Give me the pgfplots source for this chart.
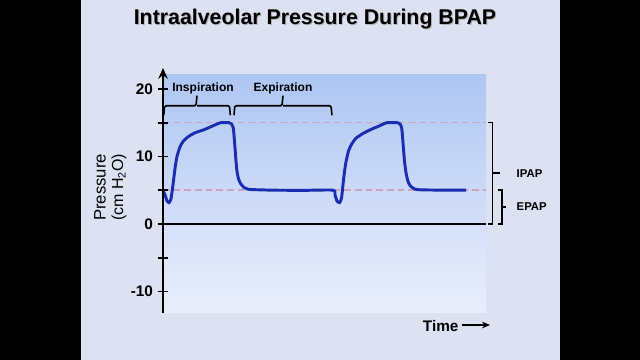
\documentclass[border=0pt]{standalone}
\usepackage{pgfplots}
\pgfplotsset{compat=1.18}
\usepackage{fontspec}
\setmainfont{Liberation Sans}
\usetikzlibrary{arrows.meta}
\definecolor{slidebg}{HTML}{DCE2F2}
\definecolor{uptop}{HTML}{ADC6F2}
\definecolor{upbot}{HTML}{D4DFF9}
\definecolor{lotop}{HTML}{D6E1F9}
\definecolor{lobot}{HTML}{E8EEFB}
\definecolor{curve}{HTML}{1A2DB0}
\definecolor{dashc}{HTML}{C9A6B8}
\begin{document}
\begin{tikzpicture}[x=1pt,y=1pt]
\fill[black] (0,0) rectangle (480,270);
\fill[slidebg] (60.5,0) rectangle (420,270);
% title
\node[font=\fontsize{16}{16}\selectfont\bfseries, text=gray!60] at (237,255.2) {Intraalveolar Pressure During BPAP};
\node[font=\fontsize{16}{16}\selectfont\bfseries] at (236.25,256) {Intraalveolar Pressure During BPAP};
\begin{axis}[
  at={(122.25pt,35.25pt)}, anchor=south west,
  scale only axis, width=242.25pt, height=183.75pt,
  xmin=0, xmax=323, ymin=-13.2, ymax=23.1,
  axis x line=none, axis y line=left,
  y axis line style={line width=1.5pt, -{Stealth[length=8pt,width=7pt]}},
  clip=false, axis on top,
  ytick={-10,-5,0,5,10,15,20},
  yticklabels={-10,,0,,10,,20},
  tick align=center, major tick length=8pt,
  ytick style={line width=1.3pt, black},
  yticklabel style={font=\fontsize{11.5}{11.5}\selectfont\bfseries},
  /pgf/number format/assume math mode=true,
]
\fill[top color=uptop, bottom color=upbot] (axis cs:0,0) rectangle (axis cs:323,22.2);
\fill[top color=lotop, bottom color=lobot] (axis cs:0,-13.2) rectangle (axis cs:323,0);
\draw[dashc, line width=1pt, dash pattern=on 5pt off 3pt] (axis cs:0,15) -- (axis cs:323,15);
\draw[dashc, line width=1pt, dash pattern=on 5pt off 3pt] (axis cs:0,5) -- (axis cs:323,5);
\draw[black, line width=1.5pt] (axis cs:0,0) -- (axis cs:323,0);
\addplot[curve, line width=2.2pt, smooth, tension=0.35] coordinates {
(0,5.0) (2,4.3) (4,3.4) (6,3.15) (8,3.7) (10,5.8) (12,8.2) (14,10) (17,11.4) (20,12.2) (25,12.9) (32,13.5) (40,13.9) (48,14.4) (54,14.8) (58,15.0) (66,15.0) (68.5,14.8) (70.3,14.2) (71.2,12.8) (72,11.3) (73,9.3) (74,7.8) (75.5,6.7) (77.5,6.0) (81,5.4) (85,5.15) (90,5.08) (110,5.0) (140,4.97) (170,5.0)
(172,4.3) (174,3.4) (176.5,3.15) (178.5,3.8) (180.5,6.5) (182.5,8.8) (185.5,10.8) (189,11.9) (193,12.7) (200,13.4) (208,14.0) (216,14.5) (221,14.85) (224,15.0) (234,15.0) (237,14.8) (238.7,14.2) (239.6,12.8) (240.4,11.3) (241.5,9.3) (243,7.6) (245,6.3) (247.5,5.6) (252,5.15) (258,5.05) (280,5.0) (303,5.0)
};
% brackets top
\draw[black, line width=1.2pt, rounded corners=1pt] (axis cs:0.8,16.1) -- (axis cs:1.6,17.5) -- (axis cs:33,17.5) -- (axis cs:34,19) (axis cs:34,17.5) -- (axis cs:66.5,17.5) -- (axis cs:67.3,16.1);
\draw[black, line width=1.2pt, rounded corners=1pt] (axis cs:71,16.1) -- (axis cs:71.8,17.5) -- (axis cs:119,17.5) -- (axis cs:120,19) (axis cs:120,17.5) -- (axis cs:168,17.5) -- (axis cs:169,16.1);
\node[font=\fontsize{9}{9}\selectfont\bfseries] at (axis cs:40,20.1) {Inspiration};
\node[font=\fontsize{9}{9}\selectfont\bfseries] at (axis cs:120,20.1) {Expiration};
% right brackets
\draw[black, line width=1.2pt] (axis cs:325,15) -- (axis cs:329.5,15) -- (axis cs:329.5,0) -- (axis cs:325,0);
\draw[black, line width=1.2pt] (axis cs:329.5,7.5) -- (axis cs:337,7.5);
\draw[black, line width=1.2pt] (axis cs:335,5) -- (axis cs:339,5) -- (axis cs:339,0) -- (axis cs:335,0);
\draw[black, line width=1.2pt] (axis cs:339,2.5) -- (axis cs:343,2.5);
\node[font=\fontsize{8.5}{8.5}\selectfont\bfseries, anchor=west] at (axis cs:349,7.5) {IPAP};
\node[font=\fontsize{8.5}{8.5}\selectfont\bfseries, anchor=west] at (axis cs:349,2.6) {EPAP};
% y label
\node[rotate=90, font=\fontsize{12.5}{12.5}\selectfont] at (axis cs:-63,5.4) {Pressure};
\node[rotate=90, font=\fontsize{12}{12}\selectfont] at (axis cs:-44,5.4) {(cm H\textsubscript{2}O)};
\end{axis}
\node[font=\fontsize{11.5}{11.5}\selectfont\bfseries] at (330.5,25.5) {Time};
\draw[black, line width=1.2pt, -{Stealth[length=6pt,width=5pt]}] (346.5,26.25) -- (367.5,26.25);
\end{tikzpicture}
\end{document}
